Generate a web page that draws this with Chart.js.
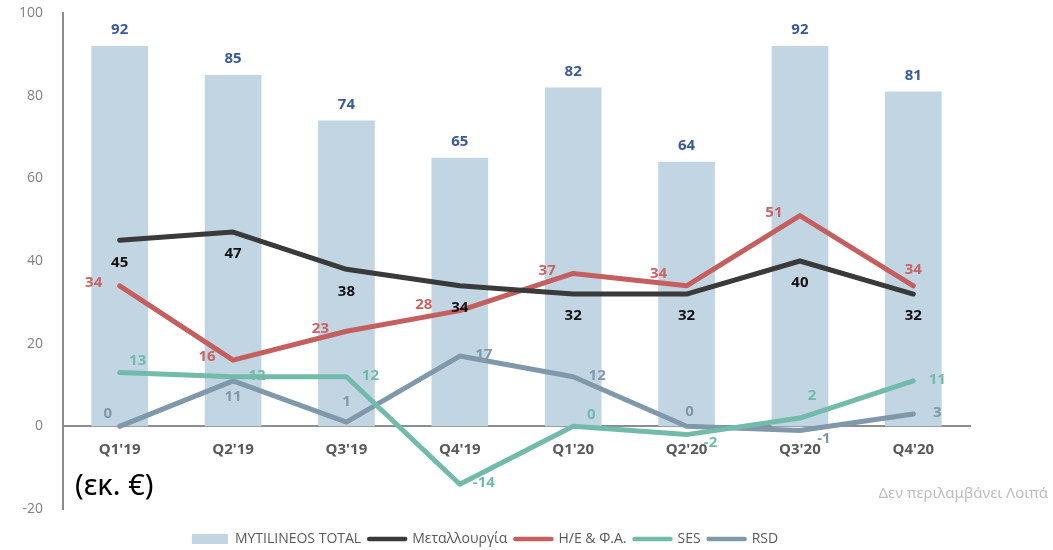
<!DOCTYPE html>
<html>
<head>
<meta charset="utf-8">
<script src="https://cdn.jsdelivr.net/npm/chart.js@4"></script>
<style>
  body { margin: 0; background: #fff; }
  #wrap { position: relative; width: 1053px; height: 550px; }
  #unit { position: absolute; left: 75px; top: 464px; font: 29px "Noto Sans", sans-serif; color: #000; }
  #note { position: absolute; right: 5px; top: 482px; font: 15px "Noto Sans", sans-serif; color: #bdbdbd; }
</style>
</head>
<body>
<div id="wrap">
  <canvas id="chart" width="1053" height="550"></canvas>
  <div id="unit">(εκ. €)</div>
  <div id="note">Δεν περιλαμβάνει Λοιπά</div>
</div>
<script>
//Data
const quarters = ["Q1'19", "Q2'19", "Q3'19", "Q4'19", "Q1'20", "Q2'20", "Q3'20", "Q4'20"];
const total = [92, 85, 74, 65, 82, 64, 92, 81];
const metallurgy = [45, 47, 38, 34, 32, 32, 40, 32];
const powerGas = [34, 16, 23, 28, 37, 34, 51, 34];
const ses = [13, 12, 12, -14, 0, -2, 2, 11];
const rsd = [0, 11, 1, 17, 12, 0, -1, 3];

//label offsets by keyword
const offsets = {
  above: [0, -16], below: [0, 22], left: [-26, -3], right: [24, -1],
  leftFar: [-36, -6], upLeftWide: [-28, -12],
  upRight: [18, -12], upRightFar: [12, -22], downRight: [24, 8], upLeft: [-12, -13],
  belowNear: [0, 16], aboveNear: [3, -15], aboveFar: [0, -20]
};

//draws value labels next to points / bars
const valueLabels = {
  id: 'valueLabels',
  afterDatasetsDraw(chart) {
    const ctx = chart.ctx;
    chart.data.datasets.forEach((ds, i) => {
      const meta = chart.getDatasetMeta(i);
      ctx.save();
      ctx.font = 'bold 15px "Open Sans", sans-serif';
      ctx.fillStyle = ds.labelColor;
      ctx.textAlign = 'center';
      ctx.textBaseline = 'middle';
      meta.data.forEach((el, j) => {
        const o = offsets[ds.labelPos[j]];
        ctx.fillText(Math.round(ds.data[j]), el.x + o[0], el.y + o[1]);
      });
      ctx.restore();
    });
  }
};

const lineDs = (label, data, color, labelColor, pos) => ({
  type: 'line', label: label, data: data, borderColor: color, backgroundColor: color,
  borderWidth: 5, pointRadius: 0, tension: 0, borderCapStyle: 'round', borderJoinStyle: 'round',
  order: 0, labelColor: labelColor, labelPos: pos
});

const data = {
  labels: quarters,
  datasets: [
    {type: 'bar', label: 'MYTILINEOS TOTAL', data: total, backgroundColor: '#C2D5E3',
     barPercentage: 0.5, categoryPercentage: 1, order: 1, labelColor: '#3A5A9A',
     labelPos: Array(8).fill('above')},
    lineDs('Μεταλλουργία', metallurgy, '#3A3A3A', '#111111', Array(8).fill('below')),
    lineDs('Η/Ε & Φ.Α.', powerGas, '#C55F5F', '#C96464',
      ['left', 'left', 'left', 'leftFar', 'left', 'upLeftWide', 'left', 'above']),
    lineDs('SES', ses, '#72BBAA', '#72BBAA',
      ['upRight', 'right', 'right', 'right', 'upRight', 'downRight', 'upRightFar', 'right']),
    lineDs('RSD', rsd, '#7F98AA', '#7F98AA',
      ['upLeft', 'belowNear', 'aboveFar', 'right', 'right', 'aboveNear', 'downRight', 'right'])
  ]
};

const config = {
  data: data,
  options: {
    responsive: false,
    animation: false,
    layout: {padding: {left: 0, right: 83, top: 13, bottom: -6}},
    plugins: {
      tooltip: {enabled: false},
      legend: {
        position: 'bottom',
        labels: {
          usePointStyle: true, pointStyleWidth: 36, boxWidth: 36, boxHeight: 10, padding: 8,
          color: '#595959', font: {size: 14, family: '"Open Sans", sans-serif'},
          generateLabels: chart => chart.data.datasets.map((ds, i) => ({
            text: ds.label, datasetIndex: i, hidden: false,
            fillStyle: ds.type === 'bar' ? ds.backgroundColor : ds.borderColor,
            strokeStyle: ds.type === 'bar' ? ds.backgroundColor : ds.borderColor,
            lineWidth: ds.type === 'bar' ? 0 : 4.5, lineCap: 'round',
            pointStyle: ds.type === 'bar' ? 'rect' : 'line', fontColor: '#595959'
          }))
        }
      }
    },
    scales: {
      x: {
        position: {y: 0},
        grid: {display: false},
        border: {color: '#8C8C8C', width: 2},
        ticks: {color: '#595959', padding: 6, font: {size: 15, weight: 'bold', family: '"Open Sans", sans-serif'}}
      },
      x2: {
        type: 'category', position: 'bottom',
        grid: {display: false}, border: {display: false}, ticks: {display: false},
        afterFit: s => { s.height = 15; }
      },
      y: {
        min: -20, max: 100,
        grid: {display: false},
        border: {color: '#8C8C8C', width: 2},
        ticks: {stepSize: 20, color: '#808080', padding: 12, font: {size: 14, family: '"Open Sans", sans-serif'}},
        afterFit: s => { s.width = 63; s.paddingTop = 0; s.paddingBottom = 0; }
      }
    }
  },
  plugins: [valueLabels]
};

const chart = new Chart(document.getElementById('chart'), config);
</script>
</body>
</html>
